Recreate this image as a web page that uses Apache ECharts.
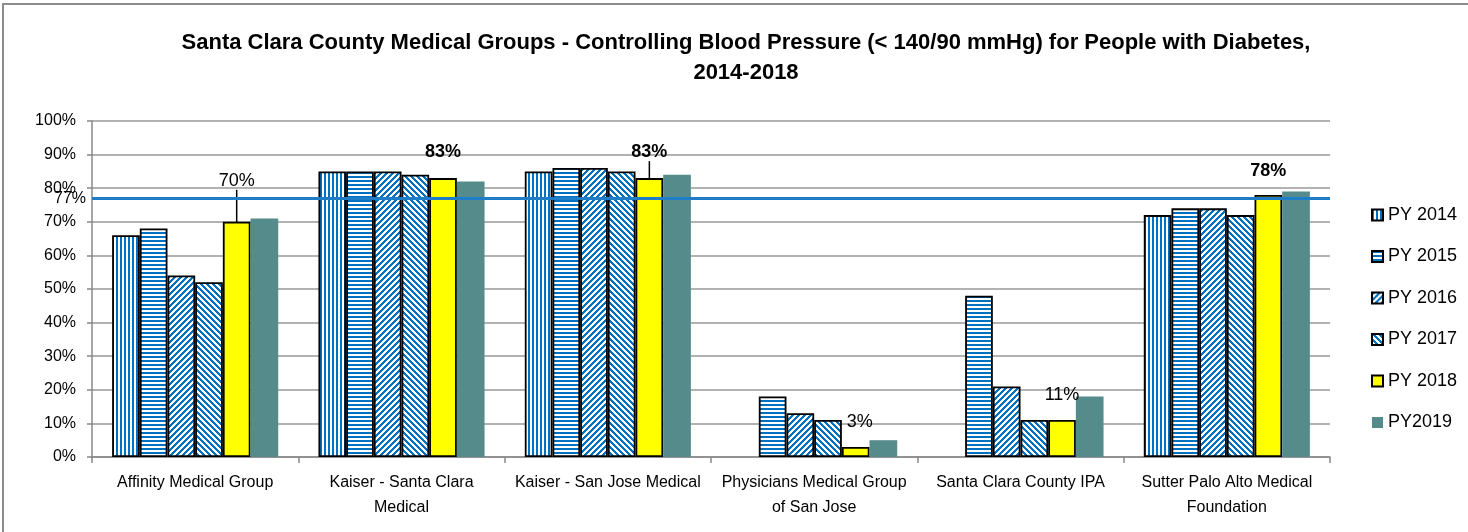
<!DOCTYPE html>
<html><head><meta charset="utf-8">
<script src="https://cdn.jsdelivr.net/npm/echarts@6/dist/echarts.min.js"></script>
<style>html,body{margin:0;padding:0;background:#fff}#c{width:1468px;height:532px}</style>
</head><body><div id="c"></div>
<script>
const titleText = 'Santa Clara County Medical Groups - Controlling Blood Pressure (< 140/90 mmHg) for People with Diabetes,\n2014-2018';
const categories = ['Affinity Medical Group','Kaiser - Santa Clara\nMedical','Kaiser - San Jose Medical','Physicians Medical Group\nof San Jose','Santa Clara County IPA','Sutter Palo Alto Medical\nFoundation'];
const seriesNames = ['PY 2014','PY 2015','PY 2016','PY 2017','PY 2018','PY2019'];
const py2014 = [66, 85, 85, null, null, 72];
const py2015 = [68, 85, 86, 18, 48, 74];
const py2016 = [54, 85, 86, 13, 21, 74];
const py2017 = [52, 84, 85, 11, 11, 72];
const py2018 = [70, 83, 83, 3, 11, 78];
const py2019 = [71, 82, 84, 5, 18, 79];
const benchmark = 77;
const yMin = 0, yMax = 100, yInterval = 10;

const FONT = '"Liberation Sans", Arial, sans-serif';
const BLUE = [0, 112, 192];

function makePattern(type) {
  const p = (type === 'v' || type === 'h') ? 4 : 6;
  const c = document.createElement('canvas');
  c.width = p; c.height = p;
  const ctx = c.getContext('2d');
  const img = ctx.createImageData(p, p);
  for (let y = 0; y < p; y++) {
    for (let x = 0; x < p; x++) {
      let on;
      if (type === 'v') on = x < 2;
      else if (type === 'h') on = y < 2;
      else if (type === 'd1') on = ((x + y) % p) < 3;
      else on = (((x - y) % p) + p) % p < 3;
      const i = (y * p + x) * 4;
      const col = on ? BLUE : [255, 255, 255];
      img.data[i] = col[0]; img.data[i + 1] = col[1]; img.data[i + 2] = col[2]; img.data[i + 3] = 255;
    }
  }
  ctx.putImageData(img, 0, 0);
  return { image: c, repeat: 'repeat' };
}

const itemStyles = [
  { color: makePattern('v'), borderColor: '#000', borderWidth: 1.8 },
  { color: makePattern('h'), borderColor: '#000', borderWidth: 1.8 },
  { color: makePattern('d1'), borderColor: '#000', borderWidth: 1.8 },
  { color: makePattern('d2'), borderColor: '#000', borderWidth: 1.8 },
  { color: '#FFFF00', borderColor: '#000', borderWidth: 1.8 },
  { color: '#558C8B', borderWidth: 0 }
];

// label styling for PY 2018 values
const labelBold = [false, true, true, false, false, true];
const labelShift = [-27, -12, -12, -11, -11, -10];
const labelDx = [0, 0, 0, 4, 0, 0];
const labelLeader = [true, false, true, false, false, false];

const allData = [py2014, py2015, py2016, py2017, py2018, py2019];

const series = allData.map((d, si) => {
  const s = {
    name: seriesNames[si],
    type: 'bar',
    data: d.map(v => v === null ? '-' : v),
    barGap: '0%',
    barCategoryGap: '19.5%',
    itemStyle: itemStyles[si]
  };
  if (si === 4) {
    s.data = d.map((v, i) => ({
      value: v,
      label: {
        show: true, position: 'top', distance: 5,
        formatter: '{c}%', fontSize: 18, color: '#000',
        fontFamily: FONT, fontWeight: labelBold[i] ? 'bold' : 'normal'
      },
      labelLine: { show: labelLeader[i], lineStyle: { color: '#000', width: 1.5 } }
    }));
    s.labelLayout = function (params) { return { dy: labelShift[params.dataIndex], dx: labelDx[params.dataIndex] }; };
    s.labelLine = { show: false, lineStyle: { color: '#000', width: 1.5 } };
  }
  if (si === 5) {
    s.markLine = {
      silent: true, symbol: 'none', animation: false,
      lineStyle: { color: '#1F7CC6', width: 3, type: 'solid' },
      label: { position: 'start', formatter: benchmark + '%', fontSize: 16, color: '#000', fontFamily: FONT, distance: 6 },
      data: [{ yAxis: benchmark }]
    };
  }
  return s;
});

const chart = echarts.init(document.getElementById('c'), null, { renderer: 'canvas' });
chart.setOption({
  animation: false,
  backgroundColor: '#fff',
  title: {
    text: titleText, left: 746, top: 28, textAlign: 'center', padding: 0,
    textStyle: { fontSize: 22, fontWeight: 'bold', fontFamily: FONT, color: '#000', lineHeight: 30 }
  },
  graphic: [{
    type: 'rect', silent: true,
    shape: { x: 3, y: 4, width: 1600, height: 700 },
    style: { fill: 'none', stroke: '#8c8c8c', lineWidth: 2 }
  }],
  legend: {
    orient: 'vertical', left: 1366, top: 200,
    itemWidth: 11, itemHeight: 11, itemGap: 21.5,
    icon: 'rect',
    textStyle: { fontSize: 18, color: '#000', fontFamily: FONT, lineHeight: 20 },
    data: seriesNames
  },
  grid: { left: 92, right: 138, top: 121, bottom: 75 },
  xAxis: {
    type: 'category', data: categories,
    axisLine: { lineStyle: { color: '#888', width: 1.5 } },
    axisTick: { show: true, length: 6, lineStyle: { color: '#888', width: 1.5 } },
    axisLabel: { color: '#000', fontSize: 16, fontFamily: FONT, margin: 13, lineHeight: 25, interval: 0 }
  },
  yAxis: {
    type: 'value', min: yMin, max: yMax, interval: yInterval,
    axisLine: { show: true, lineStyle: { color: '#888', width: 1.5 } },
    axisTick: { show: true, length: 5, lineStyle: { color: '#888', width: 1.5 } },
    axisLabel: { formatter: '{value}%', color: '#000', fontSize: 16, fontFamily: FONT, margin: 16 },
    splitLine: { lineStyle: { color: '#999', width: 1.5 } }
  },
  series: series
});
</script></body></html>
